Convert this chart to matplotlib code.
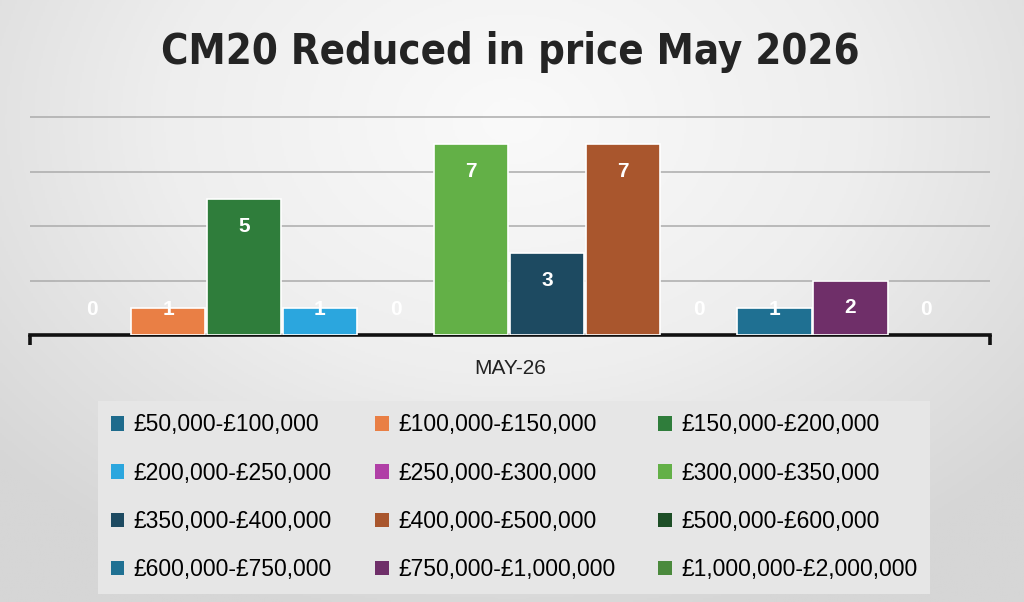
#CM20 price reductions for May 2026, one bar per price band.

import numpy as np
import matplotlib
matplotlib.use('Agg')
import matplotlib.pyplot as plt
from matplotlib.patches import Patch
from matplotlib.colors import LinearSegmentedColormap

title = 'CM20 Reduced in price May 2026'
category = 'MAY-26'

price_bands = ['£50,000-£100,000', '£100,000-£150,000', '£150,000-£200,000',
               '£200,000-£250,000', '£250,000-£300,000', '£300,000-£350,000',
               '£350,000-£400,000', '£400,000-£500,000', '£500,000-£600,000',
               '£600,000-£750,000', '£750,000-£1,000,000', '£1,000,000-£2,000,000']
listings = [0, 1, 5, 1, 0, 7, 3, 7, 0, 1, 2, 0]
band_colours = ['#1E6B8C', '#E97F45', '#2F7D3B', '#2BA6DE', '#B03FA6', '#63B047',
                '#1D4A61', '#A9562D', '#1D4E26', '#1F7092', '#6F2F69', '#4B8A3D']

fig = plt.figure(figsize=(10.24, 6.02), dpi=100)

# soft grey vignette behind everything
bg = fig.add_axes([0, 0, 1, 1], zorder=-10)
yy, xx = np.mgrid[0:1:300j, 0:1:500j]
r = np.sqrt(((xx - 0.5) / 0.8) ** 2 + ((yy - 0.2) / 1.0) ** 2)
bg_cmap = LinearSegmentedColormap.from_list('bg', ['#FAFAFA', '#EEEEEE', '#D6D6D6'])
bg.imshow(r, cmap=bg_cmap, vmin=0, vmax=0.85, aspect='auto',
          extent=[0, 1, 0, 1], origin='upper')
bg.axis('off')

px_per_unit = (335 - 117) / 8
ax = fig.add_axes([30 / 1024, (602 - 335) / 602, 960 / 1024, 8.1 * px_per_unit / 602])
ax.set_facecolor('none')

x = np.arange(len(listings))
ax.bar(x, listings, width=0.98, color=band_colours, edgecolor='white',
       linewidth=[1.2 if v else 0 for v in listings], zorder=3)
for i, v in enumerate(listings):
    ax.text(x[i], max(v - 1, 0.93), str(v), ha='center', va='center',
            color='white', fontweight='bold', fontsize=15,
            family='Liberation Sans', zorder=4)

xlo, xhi = -0.82, len(listings) - 1 + 0.84
ax.set_xlim(xlo, xhi)
ax.set_ylim(0, 8.1)
ax.set_yticks([2, 4, 6, 8])
ax.yaxis.grid(True, color='#ABABAB', linewidth=1.1)
ax.set_axisbelow(True)
ax.tick_params(axis='y', length=0, labelleft=False)

for s in ['left', 'right', 'top']:
    ax.spines[s].set_visible(False)
ax.spines['bottom'].set_linewidth(2.6)
ax.spines['bottom'].set_color('#111111')

ax.set_xticks([(xlo + xhi) / 2])
ax.set_xticklabels([category], fontsize=15, color='#222222', family='Liberation Sans')
ax.tick_params(axis='x', which='major', length=0, pad=17)
ax.set_xticks([xlo, xhi], minor=True)
ax.tick_params(axis='x', which='minor', length=7, width=2.6, color='#111111',
               direction='out')

fig.text(0.498, 0.914, title, ha='center', va='center', fontsize=30,
         fontweight='bold', family='DejaVu Sans', fontstretch='condensed',
         color='#242424')

handles = [Patch(facecolor=c, label=l) for c, l in zip(band_colours, price_bands)]
order = [0, 3, 6, 9, 1, 4, 7, 10, 2, 5, 8, 11]
fig.legend([handles[i] for i in order], [price_bands[i] for i in order],
           loc='center', bbox_to_anchor=(0.502, 0.174), ncol=3,
           frameon=True, facecolor='#E6E6E6', edgecolor='none', fancybox=False,
           framealpha=1, prop={'family': 'Liberation Sans', 'size': 16.5},
           handlelength=0.6, handleheight=0.6, handletextpad=0.4,
           labelspacing=1.1, columnspacing=1.88, borderpad=0.55)

fig.savefig('out.png', dpi=100)
